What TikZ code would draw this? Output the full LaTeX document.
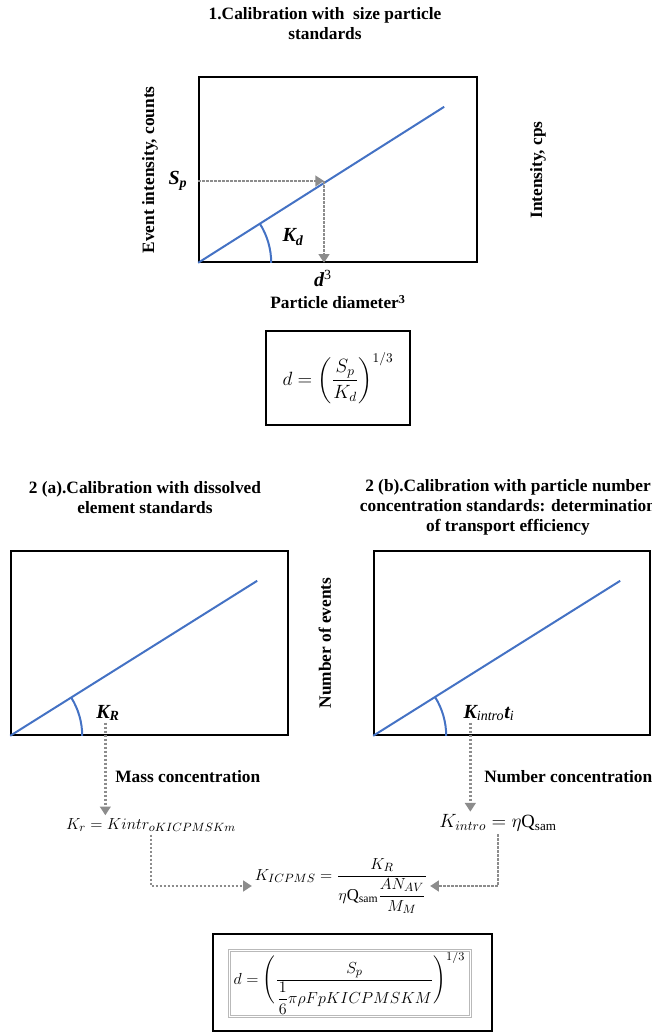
\documentclass[tikz,border=0pt]{standalone}
\usepackage{amsmath}
\usepackage{fontspec}
\setmainfont{Liberation Serif}
\usetikzlibrary{arrows.meta, positioning, calc}
\definecolor{lineblue}{HTML}{4472C4}
\definecolor{guidegray}{HTML}{8C8C8C}
\tikzset{
  ttl/.style={font=\fontsize{13}{15}\selectfont\bfseries, align=center},
  axlbl/.style={font=\fontsize{13}{15}\selectfont\bfseries},
  sym/.style={font=\fontsize{15}{17}\selectfont\bfseries\itshape, inner sep=1pt},
  eqn/.style={font=\fontsize{14}{16}\selectfont, inner sep=2pt},
  eqnsm/.style={font=\fontsize{12.5}{14}\selectfont, inner sep=2pt},
  plotbox/.style={draw, line width=1.2pt, inner sep=0pt},
  fitline/.style={draw=lineblue, line width=1.5pt},
  guide/.style={draw=guidegray, line width=2pt, dash pattern=on 2pt off 1pt, -{Triangle[length=6.5pt,width=8pt]}},
}

\begin{document}
\begin{tikzpicture}[x=0.75pt, y=0.75pt]
  \useasboundingbox (0,0) rectangle (651,1032);

  % 1. size standards
  \node[ttl] (title1) at (325,1008) {1.Calibration with\ \ size particle\\standards};
  \node[plotbox, minimum width=208.5pt, minimum height=138.75pt] (plot1) at (338,862.5) {};
  \draw[fitline] (plot1.south west) -- ++(246,156);
  \draw[fitline] ($(plot1.south west)+(73,0)$) arc[start angle=0, end angle=32.4, radius=73];
  \coordinate (hit1) at (324,851);
  \node[sym] (sp) at (178,851) {S\textsubscript{p}};
  \draw[guide] (plot1.west |- hit1) -- (hit1);
  \draw[guide] (hit1) -- (hit1 |- plot1.south);
  \node[sym] (kd) at (293,795) {K\textsubscript{d}};
  \node[sym] (d3) at (323,754) {d\textsuperscript{\mdseries\upshape 3}};
  \node[axlbl] (xlbl1) at (338,730) {Particle diameter\textsuperscript{3}};
  \node[axlbl, rotate=90] (ylbl1) at (150,862) {Event intensity, counts};
  \node[axlbl, rotate=90] (ylbl2) at (538,862) {Intensity, cps};
  \node[draw, line width=1.2pt, minimum width=108pt, minimum height=70.5pt, eqn] (eq1) at (338,654)
    {$d=\left(\dfrac{S_p}{K_d}\right)^{1/3}$};

  % 2 (a) dissolved standards
  \node[ttl] (title2a) at (145,534.5) {2 (a).Calibration with dissolved\\element standards};
  \node[plotbox, minimum width=207.75pt, minimum height=138pt] (plot2a) at (149.5,389) {};
  \draw[fitline] (plot2a.south west) -- ++(247,155);
  \draw[fitline] ($(plot2a.south west)+(72,0)$) arc[start angle=0, end angle=32.1, radius=72];
  \node[sym] (kR) at (108,319) {K\textsubscript{R}};
  \node[axlbl, anchor=west, inner sep=0pt] (mass) at (115,255) {Mass concentration};
  \node[eqnsm] (krf) at (151,207) {$K_r = Kintr_{oKICPMSKm}$};
  \draw[guide] ([xshift=-2pt]kR.south) -- ([xshift=-2pt]kR.south |- krf.north);

  % 2 (b) particle number standards
  \node[ttl] (title2b) at (508,525) {2 (b).Calibration with particle number\\concentration standards: determination\\of transport efficiency};
  \node[plotbox, minimum width=207pt, minimum height=138pt] (plot2b) at (512,389) {};
  \draw[fitline] (plot2b.south west) -- ++(247,155);
  \draw[fitline] ($(plot2b.south west)+(73,0)$) arc[start angle=0, end angle=32.1, radius=73];
  \node[sym] (kint) at (489,319) {K\textsubscript{\mdseries intro}t\textsubscript{\mdseries i}};
  \node[axlbl, rotate=90] (ylbl3) at (325,389) {Number of events};
  \node[axlbl, anchor=west, inner sep=0pt] (number) at (484,255) {Number concentration};
  \node[eqn] (kintf) at (498,209) {$K_{intro} = \eta\mathrm{Q}_{\mathrm{sam}}$};
  \draw[guide] ([xshift=-14pt]kint.south) -- ([xshift=-14pt]kint.south |- kintf.north);

  % combined
  \node[eqnsm] (kicp) at (341,146)
    {$K_{ICPMS} = \dfrac{K_R}{\eta\mathrm{Q}_{\mathrm{sam}}\dfrac{AN_{AV}}{M_M}}$};
  \draw[guide] (krf.south) |- (kicp.west);
  \draw[guide] (kintf.south) |- (kicp.east);
  \node[font=\fontsize{12.5}{14}\selectfont, inner sep=1pt] (eqfin) at (349.5,49)
    {$d=\Biggl(\dfrac{S_p}{\dfrac{1}{6}\pi\rho FpKICPMSKM}\Biggr)^{1/3}$};
  \draw[gray!55, line width=0.5pt] (228,15) rectangle (471,83);
  \draw[gray!55, line width=0.5pt] (230,17) rectangle (469,81);
  \node[draw, line width=1.2pt, minimum width=209pt, minimum height=72.75pt] (finbox) at (352.5,49.5) {};
\end{tikzpicture}
\end{document}
